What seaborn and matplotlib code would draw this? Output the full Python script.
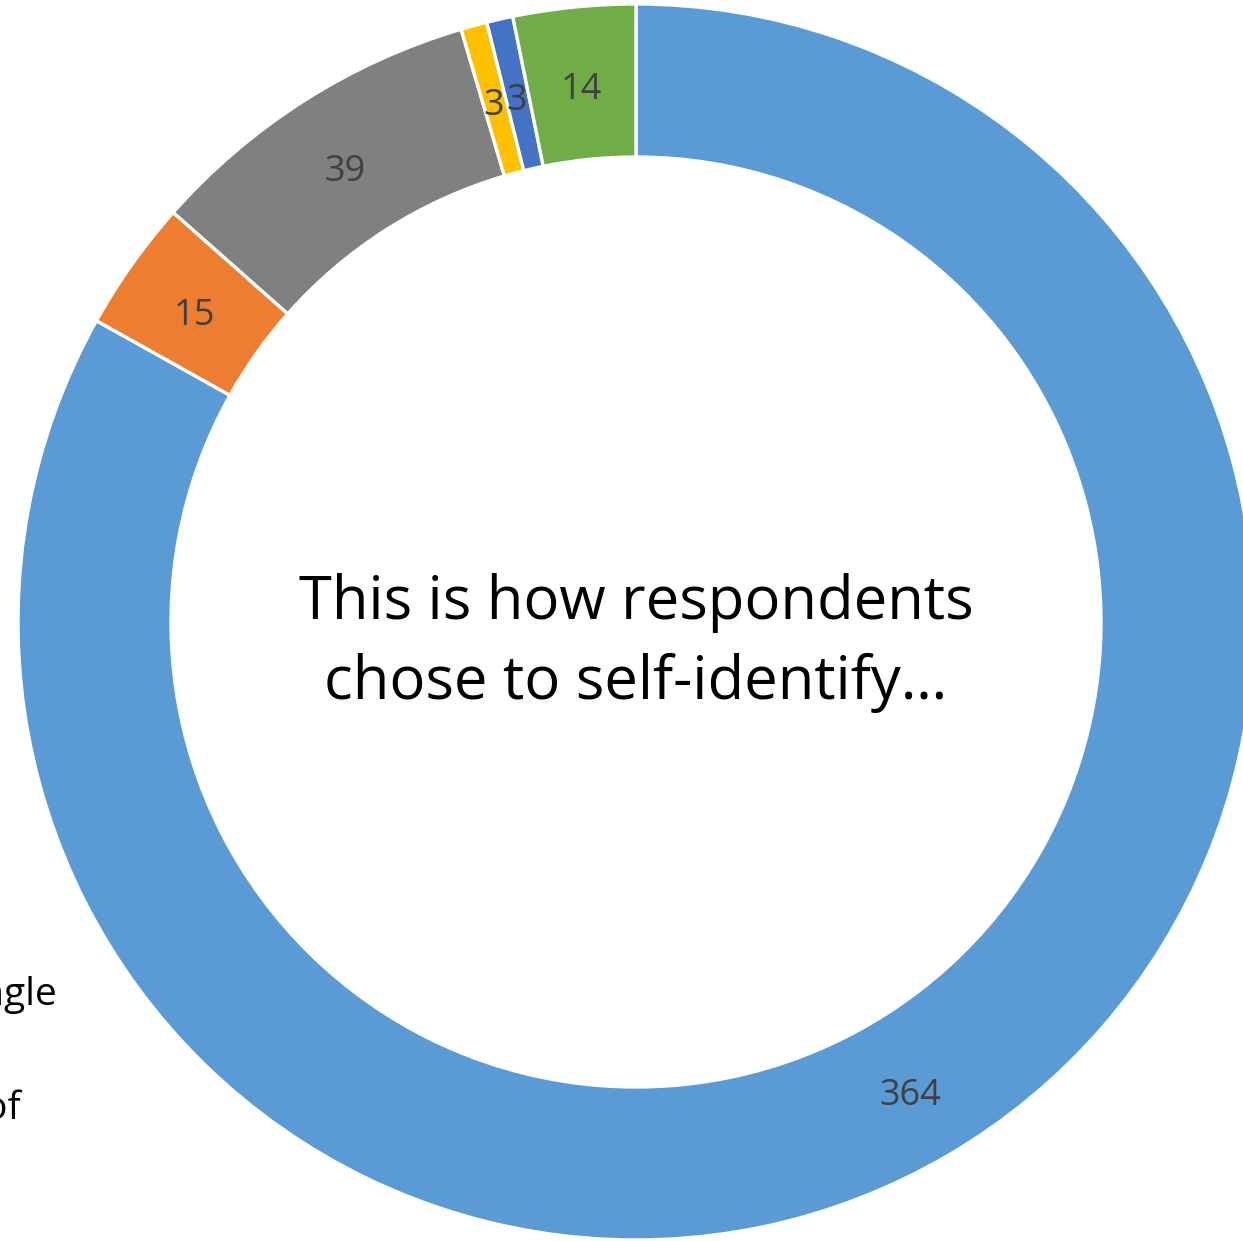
import matplotlib
matplotlib.use("Agg")
import matplotlib.pyplot as plt
import seaborn as sns
import numpy as np

# Respondent self-identification counts, clockwise from 12 o'clock
categories = ["Group A", "Group B", "Group C", "Group D", "Group E", "Group F"]
counts = [364, 15, 39, 3, 3, 14]
colors = ["#5B9BD5", "#ED7D31", "#808080", "#FFC000", "#4472C4", "#70AD47"]
center_title = "This is how respondents\nchose to self-identify…"
legend_fragments = ["Single", "Mix of"]

sns.set_theme(style="white")
plt.rcParams["font.family"] = ["Open Sans", "DejaVu Sans"]

W, H = 1243, 1241
fig = plt.figure(figsize=(W / 100, H / 100), dpi=100)
ax = fig.add_axes([0, 0, 1, 1])

cx, cy = 636, -622
R_out, ring = 618, 153

ax.pie(
    counts,
    colors=colors,
    startangle=90,
    counterclock=False,
    center=(cx, cy),
    radius=R_out,
    wedgeprops=dict(width=ring, edgecolor="white", linewidth=2.4),
    frame=True,
)
ax.set_xlim(0, W)
ax.set_ylim(-H, 0)
ax.set_aspect("equal")
ax.axis("off")

# value labels at the middle of the ring
total = sum(counts)
r_mid = R_out - ring / 2
cum = 0
for v in counts:
    mid = (cum + v / 2) / total * 2 * np.pi
    cum += v
    x = cx + r_mid * np.sin(mid)
    y = cy + r_mid * np.cos(mid) - 7
    ax.text(x, y, str(v), ha="center", va="center", fontsize=26,
            color="#404040")

ax.text(cx, -643, center_title, ha="center", va="center", fontsize=43,
        color="black", linespacing=1.42)

# legend entries cut off at the left edge
ax.text(57, -995, legend_fragments[0], ha="right", va="center", fontsize=28,
        color="black")
ax.text(21, -1109, legend_fragments[1], ha="right", va="center", fontsize=28,
        color="black")

fig.savefig("out.png", dpi=100)
